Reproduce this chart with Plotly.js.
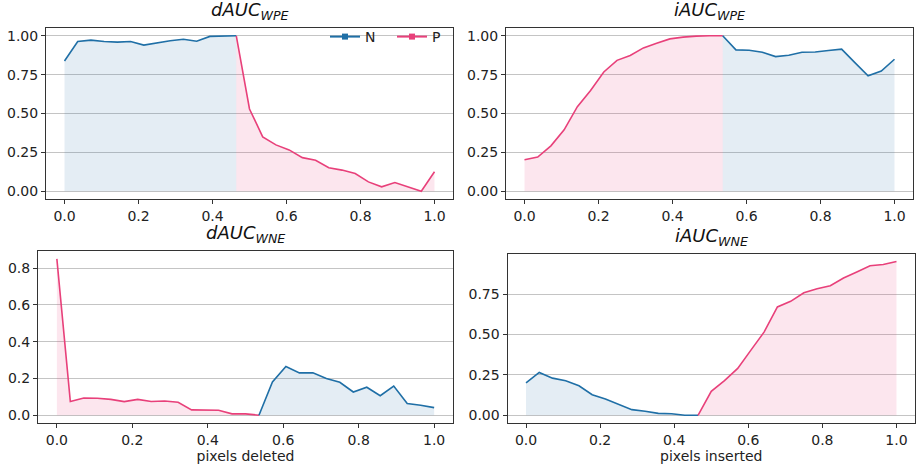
<!DOCTYPE html>
<html>
<head>
<meta charset="utf-8">
<script src="https://cdn.plot.ly/plotly-3.0.1.min.js"></script>
<style>html,body{margin:0;padding:0;background:#fff;}#chart{width:917px;height:468px;}</style>
</head>
<body>
<div id="chart"></div>
<script>
// Fraction of pixels (29 steps)
const xFrac = [0, 0.0357, 0.0714, 0.1071, 0.1429, 0.1786, 0.2143, 0.25, 0.2857, 0.3214,
  0.3571, 0.3929, 0.4286, 0.4643, 0.5, 0.5357, 0.5714, 0.6071, 0.6429, 0.6786,
  0.7143, 0.75, 0.7857, 0.8214, 0.8571, 0.8929, 0.9286, 0.9643, 1.0];

// dAUC_WPE : N until index 13, then P
const dWPE = [0.838, 0.963, 0.972, 0.963, 0.959, 0.963, 0.940, 0.955, 0.968, 0.978,
  0.965, 0.996, 1.0, 1.0, 0.529, 0.350, 0.298, 0.266, 0.216, 0.199,
  0.151, 0.136, 0.114, 0.060, 0.028, 0.056, 0.030, 0.0, 0.125];
// iAUC_WPE : P until index 15, then N
const iWPE = [0.203, 0.220, 0.292, 0.395, 0.544, 0.648, 0.767, 0.842, 0.873, 0.922,
  0.952, 0.980, 0.991, 0.998, 1.0, 1.0, 0.909, 0.907, 0.894, 0.866,
  0.875, 0.894, 0.896, 0.905, 0.914, 0.827, 0.743, 0.773, 0.849];
// dAUC_WNE : P until index 15, then N
const dWNE = [0.850, 0.074, 0.093, 0.092, 0.086, 0.074, 0.086, 0.074, 0.077, 0.070,
  0.029, 0.027, 0.027, 0.007, 0.007, 0.0, 0.181, 0.265, 0.230, 0.231,
  0.199, 0.179, 0.126, 0.152, 0.106, 0.158, 0.063, 0.054, 0.041];
// iAUC_WNE : N until index 13, then P
const iWNE = [0.201, 0.265, 0.230, 0.214, 0.183, 0.127, 0.101, 0.070, 0.035, 0.025,
  0.012, 0.010, 0.0, 0.0, 0.148, 0.214, 0.290, 0.403, 0.516, 0.670,
  0.705, 0.758, 0.783, 0.801, 0.849, 0.886, 0.925, 0.933, 0.951];

const panelTitles = ['dAUC<sub>WPE</sub>', 'iAUC<sub>WPE</sub>', 'dAUC<sub>WNE</sub>', 'iAUC<sub>WNE</sub>'];
const panelSplit = [13, 15, 15, 13];
const panelFirst = ['N', 'P', 'P', 'N'];
const legendNames = ['N', 'P'];
const xTitles = ['pixels deleted', 'pixels inserted'];

const COL = {N: '#1f6fa6', P: '#e8407a'};
const FILL = {N: 'rgba(31,111,166,0.12)', P: 'rgba(232,64,122,0.13)'};

const series = [dWPE, iWPE, dWNE, iWNE];
const traces = [];
series.forEach((vals, p) => {
  const s = panelSplit[p];
  const first = panelFirst[p];
  const second = first === 'N' ? 'P' : 'N';
  const ax = p === 0 ? '' : String(p + 1);
  const segs = [[first, 0, s], [second, s, vals.length - 1]];
  segs.forEach(([k, a, b]) => {
    traces.push({
      x: xFrac.slice(a, b + 1), y: vals.slice(a, b + 1),
      xaxis: 'x' + ax, yaxis: 'y' + ax,
      type: 'scatter', mode: 'lines',
      line: {color: COL[k], width: 1.6},
      fill: 'tozeroy', fillcolor: FILL[k],
      showlegend: false, hoverinfo: 'skip'
    });
  });
});
legendNames.forEach(k => {
  traces.push({
    x: [null], y: [null], type: 'scatter', mode: 'lines+markers', name: k,
    line: {color: COL[k], width: 2}, marker: {symbol: 'square', size: 6, color: COL[k]},
    showlegend: true
  });
});

const W = 917, H = 468;
const boxes = [
  {l: 46, r: 453, t: 28, b: 199},
  {l: 506, r: 913, t: 28, b: 199},
  {l: 38, r: 453, t: 251, b: 423},
  {l: 507.5, r: 915, t: 254, b: 423}
];
const yRanges = [[-0.05, 1.05], [-0.05, 1.05], [-0.0425, 0.8925], [-0.0475, 0.9975]];
const yTicks = [
  {vals: [0, 0.25, 0.5, 0.75, 1.0], text: ['0.00', '0.25', '0.50', '0.75', '1.00']},
  {vals: [0, 0.25, 0.5, 0.75, 1.0], text: ['0.00', '0.25', '0.50', '0.75', '1.00']},
  {vals: [0, 0.2, 0.4, 0.6, 0.8], text: ['0.0', '0.2', '0.4', '0.6', '0.8']},
  {vals: [0, 0.25, 0.5, 0.75], text: ['0.00', '0.25', '0.50', '0.75']}
];
const xTickVals = [0, 0.2, 0.4, 0.6, 0.8, 1.0];
const xTickText = ['0.0', '0.2', '0.4', '0.6', '0.8', '1.0'];

const font = {family: 'DejaVu Sans, sans-serif', size: 14, color: '#222'};
const layout = {
  width: W, height: H,
  margin: {l: 0, r: 0, t: 0, b: 0},
  paper_bgcolor: '#fff', plot_bgcolor: '#fff',
  font: font,
  showlegend: true,
  legend: {orientation: 'h', x: 325 / W, xanchor: 'left', y: 1 - 37 / H, yanchor: 'middle',
    bgcolor: 'rgba(0,0,0,0)', font: {family: 'DejaVu Sans, sans-serif', size: 14, color: '#222'},
    entrywidth: 22, entrywidthmode: 'pixels'},
  annotations: [],
  hovermode: false
};
boxes.forEach((bx, p) => {
  const ax = p === 0 ? '' : String(p + 1);
  layout['xaxis' + ax] = {
    domain: [bx.l / W, bx.r / W], anchor: 'y' + ax,
    range: [-0.05, 1.05], tickvals: xTickVals, ticktext: xTickText,
    showgrid: false, zeroline: false, ticks: 'outside', ticklen: 4, tickcolor: '#333',
    showline: true, mirror: true, linecolor: '#333', linewidth: 1,
    tickfont: font,
    title: p >= 2 ? {text: xTitles[p - 2], font: font, standoff: 3} : undefined
  };
  layout['yaxis' + ax] = {
    domain: [1 - bx.b / H, 1 - bx.t / H], anchor: 'x' + ax,
    range: yRanges[p], tickvals: yTicks[p].vals, ticktext: yTicks[p].text,
    showgrid: true, gridcolor: '#c4c4c4', gridwidth: 1, zeroline: false,
    ticks: 'outside', ticklen: 4, tickcolor: '#333',
    showline: true, mirror: true, linecolor: '#333', linewidth: 1,
    tickfont: font
  };
  layout.annotations.push({
    text: '<i>' + panelTitles[p] + '</i>', xref: 'paper', yref: 'paper',
    x: (bx.l + bx.r) / 2 / W, y: 1 - (bx.t - 3) / H, xanchor: 'center', yanchor: 'bottom',
    showarrow: false, font: {family: 'DejaVu Sans, sans-serif', size: 18, color: '#111'}
  });
});

Plotly.newPlot('chart', traces, layout, {displayModeBar: false, staticPlot: true});
</script>
</body>
</html>
